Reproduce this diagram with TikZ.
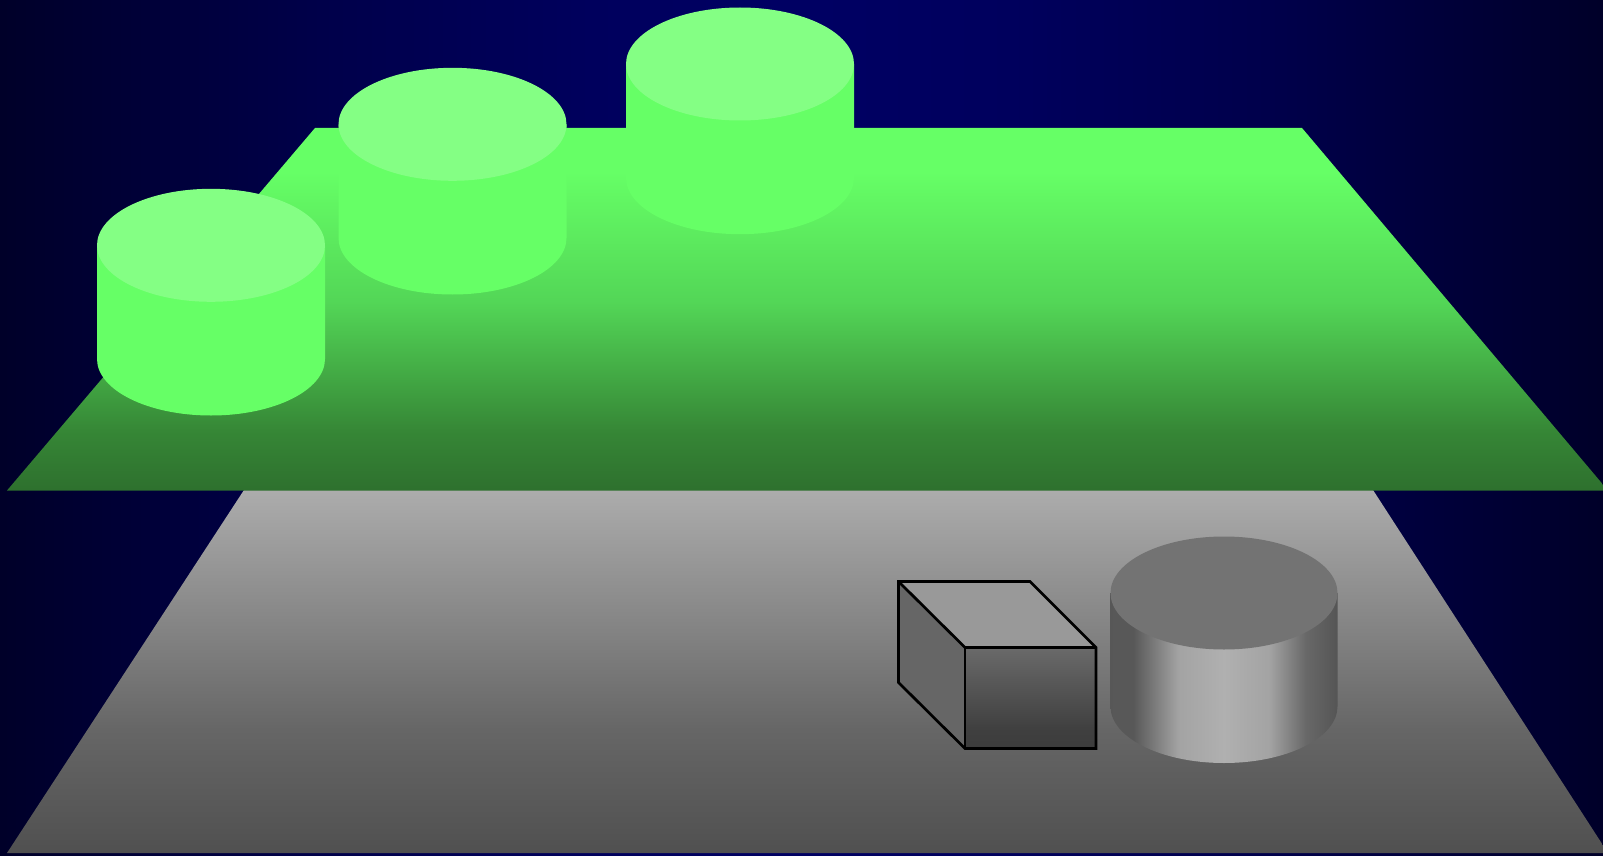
\documentclass[tikz,border=0pt]{standalone}
\definecolor{drumgreen}{HTML}{66FF66}
\definecolor{topgreen}{HTML}{84FF84}
\definecolor{topgray}{HTML}{737373}
\pgfdeclarehorizontalshading{skyband}{100bp}{rgb(0bp)=(0,0,.16);rgb(25bp)=(0,0,.16);rgb(28bp)=(0,0,.2);rgb(35bp)=(0,0,.29);rgb(43.5bp)=(0,0,.365);rgb(50bp)=(0,0,.39);rgb(56.5bp)=(0,0,.365);rgb(65bp)=(0,0,.29);rgb(72bp)=(0,0,.2);rgb(75bp)=(0,0,.16);rgb(100bp)=(0,0,.16)}
\pgfdeclareverticalshading{greenplate}{100bp}{rgb(0bp)=(.18,.44,.18);rgb(25bp)=(.18,.44,.18);rgb(33bp)=(.21,.525,.21);rgb(51bp)=(.325,.84,.34);rgb(69bp)=(.4,1,.4);rgb(75bp)=(.4,1,.4);rgb(100bp)=(.4,1,.4)}
\pgfdeclareverticalshading{grayplate}{100bp}{rgb(0bp)=(.314,.314,.314);rgb(25bp)=(.314,.314,.314);rgb(42bp)=(.4,.4,.4);rgb(75bp)=(.675,.675,.675);rgb(100bp)=(.675,.675,.675)}
\pgfdeclareverticalshading{boxfront}{100bp}{rgb(0bp)=(.235,.235,.235);rgb(25bp)=(.235,.235,.235);rgb(35bp)=(.25,.25,.25);rgb(75bp)=(.415,.415,.415);rgb(100bp)=(.415,.415,.415)}
\pgfdeclarehorizontalshading{graydrum}{100bp}{rgb(0bp)=(.333,.333,.333);rgb(30bp)=(.345,.345,.345);rgb(40bp)=(.64,.64,.64);rgb(50bp)=(.69,.69,.69);rgb(60bp)=(.64,.64,.64);rgb(68bp)=(.408,.408,.408);rgb(75bp)=(.333,.333,.333);rgb(100bp)=(.333,.333,.333)}
\begin{document}
\begin{tikzpicture}[x=1pt,y=-1pt,edge/.style={draw=black,line width=2.7pt},drumbody/.style={fill=drumgreen},drumtop/.style={fill=topgreen}]
\useasboundingbox (0,0) rectangle (1603,856);
\shade[shading=skyband] (0,0) rectangle (1603,856);
\shade[shading=grayplate] (244,490)--(1373,490)--(1608,853)--(7,853)--cycle;
\shade[shading=boxfront] (965,647.5) rectangle (1096,748.5);
\fill[black!40] (898.5,581.5)--(1030,581.5)--(1096,647.5)--(965,647.5)--cycle;
\fill[black!60] (898.5,581.5)--(965,647.5)--(965,748.5)--(898.5,682.5)--cycle;
\draw[edge] (898.5,581.5)--(1030,581.5)--(1096,647.5)--(1096,748.5)--(965,748.5)--(898.5,682.5)--cycle;
\draw[edge] (898.5,581.5)--(965,647.5)--(1096,647.5);
\draw[edge] (965,647.5)--(965,748.5);
\shade[shading=graydrum] (1110.5,593)--(1110.5,706.5) arc[start angle=180,end angle=0,x radius=113.5,y radius=56.5]--(1337.5,593)--cycle;
\fill[topgray] (1224,593) ellipse [x radius=113.5,y radius=56.5];
\shade[shading=greenplate] (315,128)--(1302,128)--(1608,490.5)--(7,490.5)--cycle;
\foreach \cx/\cy in {740/64,452.5/124.3,211/245.3}{
  \fill[drumbody] (\cx-114,\cy)--(\cx-114,\cy+113.7) arc[start angle=180,end angle=0,x radius=114,y radius=56.5]--(\cx+114,\cy)--cycle;
  \fill[drumtop] (\cx,\cy) ellipse [x radius=114,y radius=56.5];
}
\end{tikzpicture}
\end{document}
